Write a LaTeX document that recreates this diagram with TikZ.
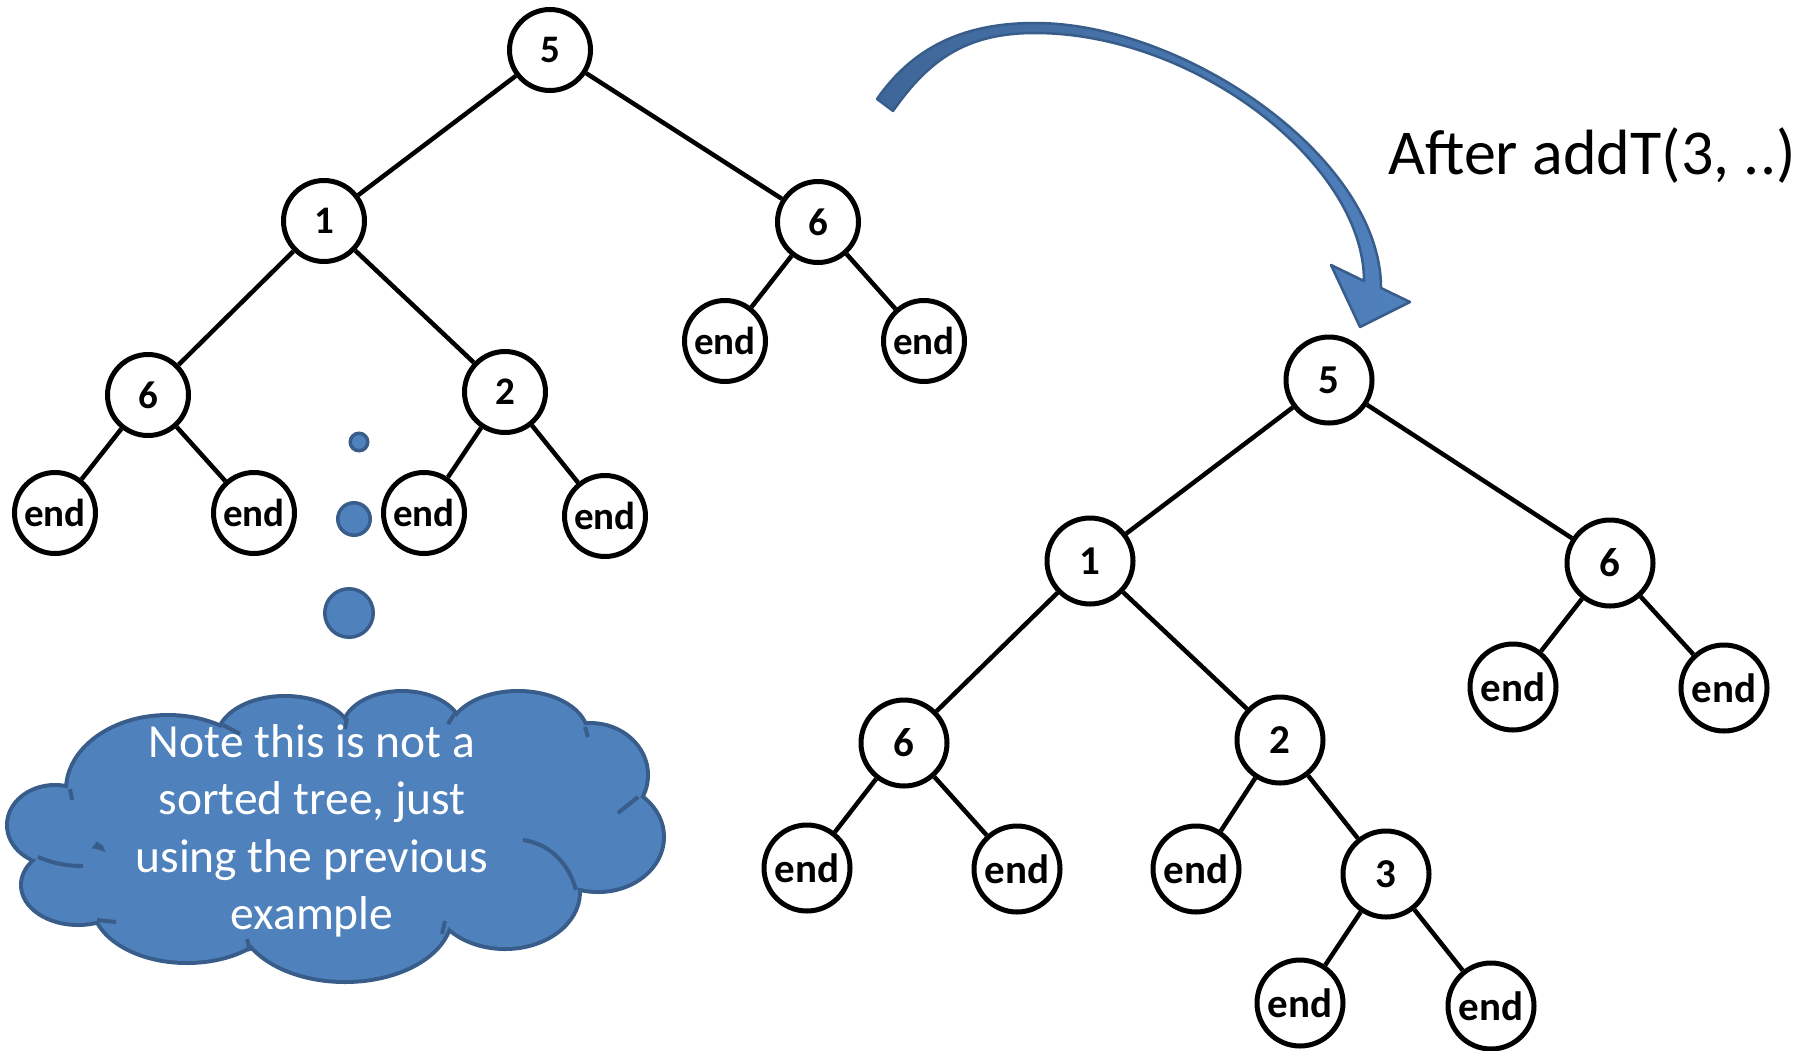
\documentclass[tikz,border=0pt]{standalone}
\usepackage{fontspec}
\setmainfont{Carlito}
\definecolor{cloudfill}{HTML}{4F81BD}
\definecolor{cloudline}{HTML}{385D8A}
\definecolor{arrowdark}{HTML}{3F6698}
\begin{document}
\begin{tikzpicture}[x=1pt,y=-1pt,
  lnode/.style={circle, draw=black, line width=5pt, fill=white, inner sep=0pt,
    minimum size=81pt, font=\fontsize{39}{39}\selectfont\bfseries},
  rnode/.style={circle, draw=black, line width=5pt, fill=white, inner sep=0pt,
    minimum size=86pt, font=\fontsize{41}{41}\selectfont\bfseries},
  branch/.style={line width=4.5pt, draw=black},
  bubble/.style={circle, draw=cloudline, fill=cloudfill, line width=3.5pt, inner sep=0pt},
  cloudtick/.style={draw=cloudline, line width=4pt},
  cloudtext/.style={anchor=base, text=white, font=\fontsize{47.5}{57}\selectfont, inner sep=0pt}]
\useasboundingbox (0,0) rectangle (1812,1050);

% ---------- tree before the insertion ----------
\node[lnode] (a5)  at (550,50)  {5};
\node[lnode] (a1)  at (324,221) {1};
\node[lnode] (a6r) at (818,222) {6};
\node[lnode] (a6l) at (148,395) {6};
\node[lnode] (a2)  at (505,392) {2};
\node[lnode] (ae1) at (55,513)  {end};
\node[lnode] (ae2) at (254,513) {end};
\node[lnode] (ae3) at (424,513) {end};
\node[lnode] (ae4) at (605,516) {end};
\node[lnode] (ae5) at (725,341) {end};
\node[lnode] (ae6) at (924,341) {end};
\foreach \p/\c in {a5/a1, a5/a6r, a1/a6l, a1/a2, a6l/ae1, a6l/ae2,
                   a2/ae3, a2/ae4, a6r/ae5, a6r/ae6}
  \draw[branch] (\p) -- (\c);

% ---------- tree after addT(3, ..) ----------
\node[rnode] (b5)  at (1329,380) {5};
\node[rnode] (b1)  at (1090,561) {1};
\node[rnode] (b6r) at (1610,563) {6};
\node[rnode] (b6l) at (904,743)  {6};
\node[rnode] (b2)  at (1280,740) {2};
\node[rnode] (be1) at (1513,687) {end};
\node[rnode] (be2) at (1724,688) {end};
\node[rnode] (be3) at (807,868)  {end};
\node[rnode] (be4) at (1017,869) {end};
\node[rnode] (be5) at (1196,869) {end};
\node[rnode] (b3)  at (1386,874) {3};
\node[rnode] (be6) at (1300,1003) {end};
\node[rnode] (be7) at (1491,1006) {end};
\foreach \p/\c in {b5/b1, b5/b6r, b1/b6l, b1/b2, b6r/be1, b6r/be2,
                   b6l/be3, b6l/be4, b2/be5, b2/b3, b3/be6, b3/be7}
  \draw[branch] (\p) -- (\c);

% ---------- curved block arrow ----------
\shadedraw[left color=arrowdark, right color=cloudfill, draw=cloudline,
    line width=2.5pt, line join=round]
  (877,99) .. controls (914,46) and (965,23) .. (1035,23)
  .. controls (1185,23) and (1381,158) .. (1381,288)
  -- (1410,302) -- (1360,327) -- (1331,265) -- (1364,281)
  .. controls (1364,164) and (1195,33) .. (1035,33)
  .. controls (968,33) and (930,58) .. (893,111)
  -- cycle;

\node[anchor=base west, inner sep=0pt, font=\fontsize{64}{64}\selectfont]
  (title) at (1388,174) {After addT(3, ..)};

% ---------- thought bubbles ----------
\node[bubble, minimum size=17.5pt] (d1) at (359,442) {};
\node[bubble, minimum size=32.5pt] (d2) at (354,519) {};
\node[bubble, minimum size=48.5pt] (d3) at (349,613) {};

% ---------- cloud: stroked lobes, then filled lobes on top ----------
\def\lobes{55/825/46/38, 78/885/55/38, 187/903/93/58, 345/915/105/65,
  505/892/73/55, 598/837/64/53, 590/775/56/50, 518/735/68/42,
  402/730/58/37, 285/738/66/40, 168/790/100/73, 340/830/240/100}
\foreach \cx/\cy/\rx/\ry in \lobes
  \draw[draw=cloudline, line width=8pt]
    (\cx,\cy) ellipse [x radius=\rx pt, y radius=\ry pt];
\foreach \cx/\cy/\rx/\ry in \lobes
  \fill[cloudfill] (\cx,\cy) ellipse [x radius=\rx pt, y radius=\ry pt];
% short inner arcs where lobes meet
\draw[cloudtick] (38,857) .. controls (52,863) and (66,866) .. (83,866);
\draw[cloudtick] (97,920) -- (116,922);
\draw[cloudtick] (250,951) -- (247,939);
\draw[cloudtick] (442,934) -- (445,921);
\draw[cloudtick] (523,840) .. controls (546,843) and (568,860) .. (576,890);
\draw[cloudtick] (638,797) -- (618,813);
\draw[cloudtick] (585,727) -- (588,737);
\draw[cloudtick] (455,713) -- (448,724);
\draw[cloudtick] (347,718) -- (345,729);
\draw[cloudtick] (223,725) -- (240,734);
\draw[cloudtick] (70,789) -- (72,800);

\node[cloudtext] (n1) at (312,757) {Note this is not a};
\node[cloudtext] (n2) at (312,814) {sorted tree, just};
\node[cloudtext] (n3) at (312,872) {using the previous};
\node[cloudtext] (n4) at (312,929) {example};
\end{tikzpicture}
\end{document}
